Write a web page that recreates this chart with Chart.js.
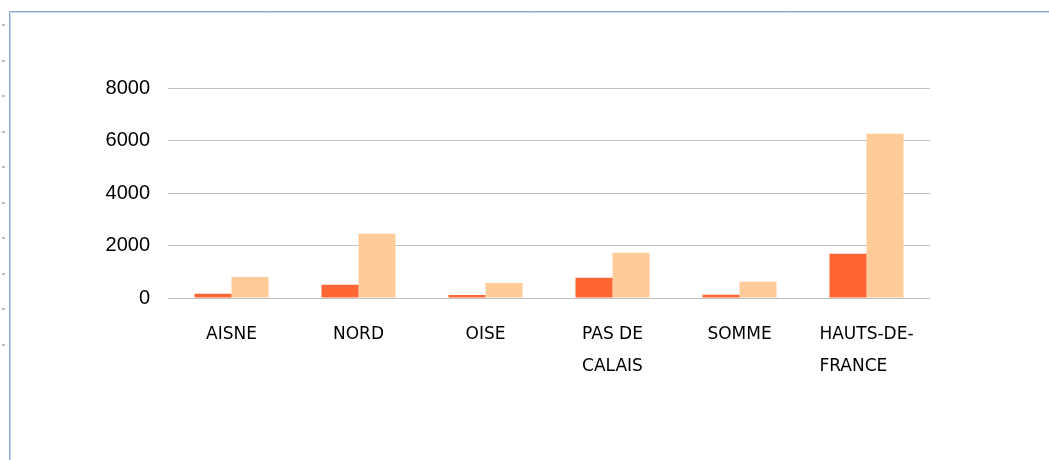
<!DOCTYPE html>
<html>
<head>
<meta charset="utf-8">
<script src="https://cdn.jsdelivr.net/npm/chart.js@4"></script>
<style>
  html, body { margin: 0; padding: 0; background: #fff; }
  #wrap { width: 1049px; height: 460px; }
</style>
</head>
<body>
<div id="wrap"><canvas id="myChart" width="1049" height="460"></canvas></div>
<script>
const labels = ['AISNE', 'NORD', 'OISE', ['PAS DE', 'CALAIS'], 'SOMME', ['HAUTS-DE-', 'FRANCE']];
const series1 = [165, 505, 110, 775, 125, 1690];
const series2 = [800, 2450, 570, 1725, 620, 6260];
const yTicks = [0, 2000, 4000, 6000, 8000];

// page frame: thin top and left rule plus the little dots in the margin
const framePlugin = {
    id: 'frame',
    beforeDraw(chart) {
        const ctx = chart.ctx;
        ctx.save();
        ctx.strokeStyle = '#c8d6ee';
        ctx.lineWidth = 1;
        ctx.beginPath();
        ctx.moveTo(10.5, 460);
        ctx.lineTo(10.5, 12.5);
        ctx.lineTo(1049, 12.5);
        ctx.stroke();
        ctx.strokeStyle = '#8ea6d6';
        ctx.beginPath();
        ctx.moveTo(9.5, 460);
        ctx.lineTo(9.5, 11.5);
        ctx.lineTo(1049, 11.5);
        ctx.stroke();
        ctx.fillStyle = '#bdbdbd';
        for (let y = 25; y < 360; y += 35.5) {
            ctx.fillRect(2, Math.round(y) - 1, 3, 2);
        }
        ctx.restore();
    }
};

// category labels: block centred under the bars, lines left-aligned
const xLabelPlugin = {
    id: 'xLabels',
    afterDraw(chart) {
        const ctx = chart.ctx;
        const xs = chart.scales.x;
        ctx.save();
        ctx.font = '17px "DejaVu Sans"';
        ctx.fillStyle = '#000';
        ctx.textAlign = 'left';
        ctx.textBaseline = 'middle';
        labels.forEach((lab, i) => {
            const lines = Array.isArray(lab) ? lab : [lab];
            const w = Math.max(...lines.map(l => ctx.measureText(l).width));
            const x0 = xs.getPixelForTick(i) - w / 2;
            lines.forEach((l, j) => {
                ctx.fillText(l, x0, chart.chartArea.bottom + 37 + j * 32);
            });
        });
        ctx.restore();
    }
};

const config = {
    type: 'bar',
    data: {
        labels: labels,
        datasets: [
            {
                label: 'Série 1',
                data: series1,
                backgroundColor: '#ff6633',
                borderWidth: 0,
            },
            {
                label: 'Série 2',
                data: series2,
                backgroundColor: '#ffcc99',
                borderWidth: 0,
            },
        ]
    },
    options: {
        responsive: false,
        animation: false,
        layout: {
            padding: { top: 88, right: 119, bottom: 0, left: 0 }
        },
        plugins: {
            legend: { display: false },
            tooltip: { enabled: false },
        },
        datasets: {
            bar: {
                categoryPercentage: 0.583,
                barPercentage: 1.0,
            }
        },
        scales: {
            x: {
                border: { display: false },
                grid: { display: false, drawTicks: false },
                ticks: { display: false },
                afterFit(scale) { scale.height = 162; }
            },
            y: {
                min: 0,
                max: 8000,
                border: { display: false },
                grid: { color: '#c0c0c0', lineWidth: 1, drawTicks: false },
                afterBuildTicks(scale) {
                    scale.ticks = yTicks.map(v => ({ value: v }));
                },
                ticks: {
                    color: '#000',
                    padding: 18,
                    font: { family: 'Liberation Sans', size: 20 },
                    callback: v => String(v),
                },
                afterFit(scale) { scale.width = 168; }
            }
        }
    },
    plugins: [framePlugin, xLabelPlugin]
};

var myChart = new Chart(document.getElementById('myChart'), config);
</script>
</body>
</html>
